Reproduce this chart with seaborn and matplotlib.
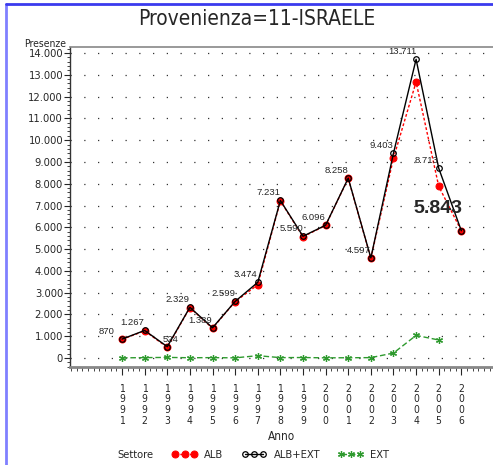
import matplotlib
matplotlib.use('Agg')
import matplotlib.pyplot as plt
from matplotlib.lines import Line2D
from matplotlib.ticker import MultipleLocator, FuncFormatter
import numpy
import pandas
import seaborn

# Data
anni = [1991, 1992, 1993, 1994, 1995, 1996, 1997, 1998, 1999, 2000, 2001, 2002, 2003, 2004, 2005, 2006]
alb_ext = [870, 1267, 524, 2329, 1389, 2599, 3474, 7231, 5590, 6096, 8258, 4597, 9403, 13711, 8713, 5843]
alb = [860, 1247, 494, 2314, 1369, 2589, 3364, 7211, 5565, 6086, 8243, 4577, 9173, 12671, 7883, 5843]
anni_ext = [1991, 1992, 1993, 1994, 1995, 1996, 1997, 1998, 1999, 2000, 2001, 2002, 2003, 2004, 2005]
ext = [10, 20, 30, 15, 20, 10, 110, 20, 25, 10, 15, 20, 230, 1040, 830]

seaborn.set_style('white')
plt.rcParams['font.family'] = ['DejaVu Sans']
plt.rcParams['font.stretch'] = 'condensed'

fig = plt.figure(figsize = (4.93, 4.65), dpi = 100)
ax = fig.add_axes([70/493, 1 - 367/465, 1 - 70/493, (367 - 47)/465])

df_alb = pandas.DataFrame({'Anno': anni, 'Presenze': alb})
df_tot = pandas.DataFrame({'Anno': anni, 'Presenze': alb_ext})
df_ext = pandas.DataFrame({'Anno': anni_ext, 'Presenze': ext})

seaborn.lineplot(data = df_alb, x = 'Anno', y = 'Presenze', ax = ax, color = 'red', linewidth = 1,
                 linestyle = (0, (2, 1.5)), marker = 'o', markersize = 5, markeredgecolor = 'red',
                 label = 'ALB')
seaborn.lineplot(data = df_tot, x = 'Anno', y = 'Presenze', ax = ax, color = 'black', linewidth = 1,
                 marker = 'o', markersize = 4, markerfacecolor = 'none', markeredgecolor = 'black',
                 markeredgewidth = 0.9, label = 'ALB+EXT')
seaborn.lineplot(data = df_ext, x = 'Anno', y = 'Presenze', ax = ax, color = '#2e9a2e', linewidth = 1,
                 linestyle = (0, (4, 2)), marker = (6, 2, 0), markersize = 5, markeredgewidth = 0.9,
                 markeredgecolor = '#2e9a2e', label = 'EXT')

# value labels for ALB+EXT
for x, y in zip(anni, alb_ext):
    txt = '{:,}'.format(y).replace(',', '.')
    if x == 2006:
        ax.annotate(txt, (x, y), xytext = (1, 14), textcoords = 'offset pixels', ha = 'right',
                    va = 'bottom', fontsize = 14, fontweight = 'bold', family = 'Liberation Sans',
                    fontstretch = 'normal')
        continue
    dx, ha = 0, 'right'
    if x == 1991:
        dx = -8
    if x == 1993:
        dx, ha = 3, 'center'
    ax.annotate(txt, (x, y), xytext = (dx, 3), textcoords = 'offset pixels', ha = ha,
                va = 'bottom', fontsize = 6.8, family = 'Liberation Sans', fontstretch = 'normal')

ax.set_xlim(1988.7, 2007.4)
ax.set_ylim(-410, 14275)
ax.set_xticks(anni)
ax.set_xticklabels(['\n'.join(str(a)) for a in anni], fontsize = 7.5, linespacing = 1.1)
ax.xaxis.set_minor_locator(MultipleLocator(0.25))
ax.yaxis.set_major_locator(MultipleLocator(1000))
ax.yaxis.set_minor_locator(MultipleLocator(200))
ax.yaxis.set_major_formatter(FuncFormatter(lambda v, p: '{:,.0f}'.format(v).replace(',', '.')))
ax.tick_params(axis = 'y', which = 'major', direction = 'out', length = 4, width = 0.8, labelsize = 8, pad = 1, left = True)
ax.tick_params(axis = 'y', which = 'minor', direction = 'out', length = 2, width = 0.6, left = True)
ax.tick_params(axis = 'x', which = 'major', direction = 'out', length = 6, width = 0.8, pad = 6, bottom = True)
ax.tick_params(axis = 'x', which = 'minor', direction = 'out', length = 3, width = 0.6, bottom = True)

ax.grid(axis = 'y', which = 'major', color = '#333333', linestyle = (0, (1, 10)), linewidth = 0.9)
ax.set_ylabel('')
ax.set_xlabel('Anno', fontsize = 8.5, labelpad = 3)

ax.spines['right'].set_visible(False)
ax.spines['left'].set_color('#333333')
ax.spines['left'].set_linewidth(1)
ax.spines['top'].set_color('#888888')
ax.spines['top'].set_linewidth(1.2)
ax.spines['bottom'].set_color('#888888')
ax.spines['bottom'].set_linewidth(2)

fig.text(66/493, 1 - 44/465, 'Presenze', ha = 'right', va = 'center', fontsize = 7.5)
fig.text(257/493, 1 - 19/465, 'Provenienza=11-ISRAELE', ha = 'center', va = 'center', fontsize = 15,
         fontweight = 'light')

# legend at the bottom
handles, labels = ax.get_legend_handles_labels()
ax.get_legend().remove()
fig.text(117/493, 1 - 455/465, 'Settore', ha = 'left', va = 'center', fontsize = 8)
fig.legend(handles, labels, loc = 'center left', bbox_to_anchor = (162/493, 1 - 455/465), ncol = 3,
           frameon = False, handlelength = 2.3, numpoints = 3, columnspacing = 1.6, handletextpad = 0.6,
           prop = {'size': 8, 'family': 'DejaVu Sans', 'stretch': 'condensed'})

# blue page border
fig.add_artist(Line2D([6/493, 6/493], [0, 1 - 4/465], transform = fig.transFigure, color = '#8080ff', linewidth = 2))
fig.add_artist(Line2D([6/493, 1], [1 - 4/465, 1 - 4/465], transform = fig.transFigure, color = '#3a3aee', linewidth = 2))

fig.savefig('out.png', dpi = 100)
